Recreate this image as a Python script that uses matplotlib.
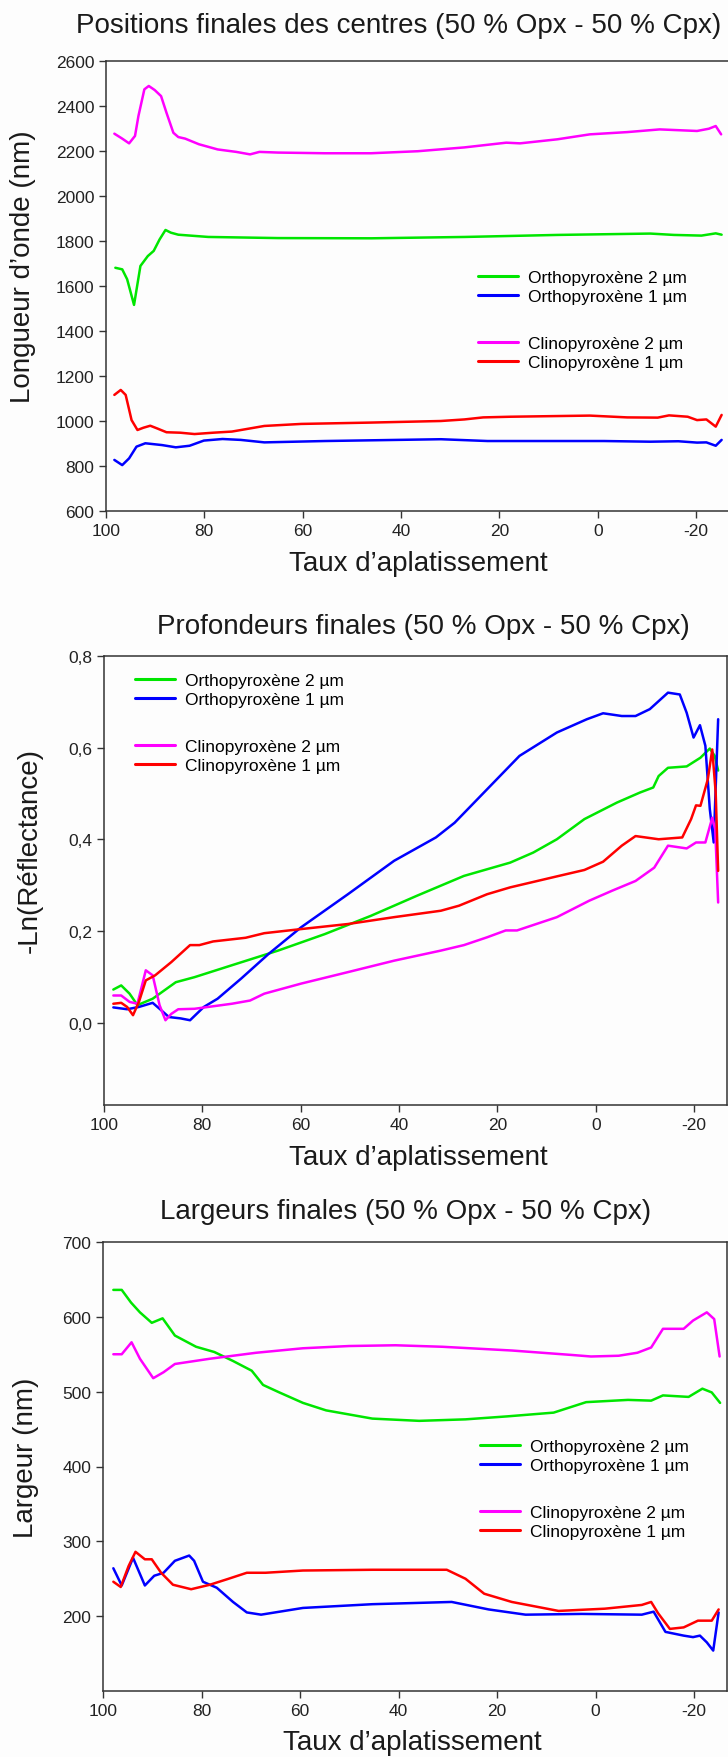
import matplotlib.pyplot as plt
from matplotlib.lines import Line2D
from matplotlib.ticker import FuncFormatter

plt.rcParams['font.family'] = ['Liberation Sans', 'DejaVu Sans']
plt.rcParams['axes.unicode_minus'] = False

GREEN = '#00e600'
BLUE = '#0000ff'
MAGENTA = '#ff00ff'
RED = '#ff0000'

labels = ['Orthopyroxène 2 µm', 'Orthopyroxène 1 µm', 'Clinopyroxène 2 µm', 'Clinopyroxène 1 µm']

# --- positions des centres (nm)
pos_x_cpx2 = [98.3, 96.7, 95.3, 94.1, 93.4, 92.2, 91.3, 90.1, 88.8, 87.7, 86.3, 85.3, 83.9, 81.1, 77.3,
              73.5, 70.7, 68.8, 65.0, 55.5, 46.1, 36.6, 27.1, 18.6, 15.8, 8.2, 1.6, -6.0, -12.6, -20.2,
              -22.6, -24.0, -25.1]
pos_cpx2 = [2277, 2255, 2234, 2267, 2356, 2474, 2489, 2471, 2444, 2370, 2281, 2262, 2255, 2230, 2207,
            2196, 2185, 2196, 2193, 2190, 2190, 2199, 2216, 2237, 2234, 2252, 2274, 2284, 2296, 2289,
            2299, 2311, 2274]
pos_x_opx2 = [98.1, 96.7, 95.7, 94.3, 93.0, 91.5, 90.3, 89.1, 87.9, 86.8, 85.3, 79.2, 65.0, 46.0, 27.0,
              8.2, -10.7, -15.5, -21.1, -24.0, -25.2]
pos_opx2 = [1681, 1674, 1630, 1516, 1689, 1733, 1756, 1807, 1849, 1837, 1828, 1818, 1813, 1812, 1818,
            1827, 1833, 1827, 1824, 1834, 1828]
pos_x_cpx1 = [98.3, 97.0, 96.0, 94.8, 93.6, 92.4, 91.0, 89.6, 87.7, 84.9, 82.0, 78.2, 74.4, 70.7, 67.8,
              60.3, 46.1, 31.9, 27.1, 23.3, 17.7, 8.2, 1.6, -6.0, -12.2, -14.5, -18.3, -20.2, -22.1,
              -24.0, -25.2]
pos_cpx1 = [1116, 1138, 1116, 1004, 960, 970, 979, 967, 950, 948, 942, 948, 953, 967, 978,
            987, 993, 1000, 1007, 1016, 1019, 1022, 1024, 1016, 1015, 1025, 1019, 1004, 1007,
            975, 1027]
pos_x_opx1 = [98.3, 96.7, 95.3, 93.8, 92.0, 88.6, 85.8, 83.0, 80.1, 76.3, 72.6, 67.8, 55.5, 31.9, 22.4,
              -1.3, -10.7, -16.4, -20.2, -22.1, -24.0, -25.2]
pos_opx1 = [827, 804, 834, 886, 901, 893, 883, 890, 913, 920, 916, 905, 911, 919, 911,
            911, 908, 910, 904, 905, 890, 916]

# --- profondeurs (-ln R)
prof_x_opx1 = [98.1, 95.3, 92.9, 90.1, 88.7, 86.8, 84.4, 82.5, 79.7, 76.9, 72.1, 66.5, 59.9, 50.4, 41.0,
               32.5, 28.7, 22.1, 15.5, 7.9, 1.8, -1.5, -5.3, -8.1, -11.0, -14.7, -17.1, -18.5, -19.9,
               -21.2, -22.3, -23.2, -24.0, -24.9]
prof_opx1 = [0.033, 0.029, 0.034, 0.043, 0.030, 0.012, 0.009, 0.005, 0.034, 0.052, 0.096, 0.150, 0.208,
             0.280, 0.353, 0.404, 0.436, 0.509, 0.582, 0.633, 0.662, 0.675, 0.669, 0.669, 0.684, 0.720,
             0.716, 0.676, 0.622, 0.649, 0.604, 0.466, 0.393, 0.662]
prof_x_opx2 = [98.1, 96.5, 94.8, 93.2, 90.1, 85.4, 81.6, 74.0, 64.6, 55.1, 45.7, 36.3, 26.8, 17.4, 12.7,
               7.9, 2.3, -4.3, -9.0, -11.7, -12.8, -14.7, -18.5, -21.3, -23.2, -24.2, -24.9]
prof_opx2 = [0.072, 0.081, 0.063, 0.038, 0.052, 0.088, 0.099, 0.125, 0.157, 0.193, 0.233, 0.277, 0.320,
             0.349, 0.371, 0.400, 0.444, 0.480, 0.502, 0.513, 0.538, 0.556, 0.559, 0.578, 0.598, 0.582,
             0.550]
prof_x_cpx1 = [98.1, 96.5, 95.3, 94.1, 92.9, 91.5, 89.6, 86.3, 82.5, 80.6, 77.8, 71.2, 67.4, 59.9, 50.4,
               41.0, 31.5, 27.8, 22.1, 17.4, 7.9, 2.3, -1.5, -5.3, -8.1, -12.8, -17.6, -19.4, -20.4,
               -21.3, -22.8, -23.7, -24.4, -24.9]
prof_cpx1 = [0.041, 0.043, 0.034, 0.016, 0.045, 0.092, 0.103, 0.132, 0.169, 0.169, 0.177, 0.185, 0.195,
             0.204, 0.215, 0.230, 0.244, 0.255, 0.280, 0.295, 0.319, 0.333, 0.351, 0.386, 0.407, 0.400,
             0.404, 0.444, 0.474, 0.473, 0.531, 0.596, 0.502, 0.331]
prof_x_cpx2 = [98.1, 96.5, 94.8, 93.2, 91.5, 90.1, 88.7, 87.5, 86.3, 84.9, 81.6, 74.0, 70.3, 67.4, 59.9,
               50.4, 41.0, 31.5, 26.8, 22.1, 18.3, 16.0, 7.9, 1.3, -3.4, -8.1, -11.9, -14.7, -18.5,
               -20.4, -22.3, -23.7, -24.3, -24.9]
prof_cpx2 = [0.059, 0.059, 0.045, 0.041, 0.114, 0.103, 0.038, 0.005, 0.019, 0.029, 0.030, 0.041, 0.048,
             0.063, 0.085, 0.110, 0.135, 0.157, 0.169, 0.186, 0.201, 0.201, 0.230, 0.266, 0.288, 0.309,
             0.338, 0.386, 0.380, 0.393, 0.393, 0.447, 0.422, 0.262]

# --- largeurs (nm)
larg_x_opx2 = [97.9, 96.2, 94.3, 92.5, 90.1, 87.9, 85.4, 81.1, 77.4, 73.6, 69.8, 67.5, 64.2, 59.4, 54.7,
               45.3, 35.8, 26.4, 17.9, 8.5, 1.9, -6.6, -11.3, -13.7, -18.9, -21.7, -23.6, -25.3]
larg_opx2 = [636, 636, 619, 606, 592, 598, 575, 560, 553, 541, 528, 509, 499, 485, 475,
             464, 461, 463, 467, 472, 486, 489, 488, 495, 493, 504, 499, 485]
larg_x_cpx2 = [97.9, 96.2, 94.2, 92.5, 89.8, 87.7, 85.4, 78.3, 68.9, 59.4, 50.0, 40.6, 31.1, 17.0, 4.7,
               0.9, -4.7, -8.5, -11.3, -13.7, -17.9, -19.8, -22.6, -24.1, -25.2]
larg_cpx2 = [550, 550, 566, 544, 518, 526, 537, 544, 552, 558, 561, 562, 560, 555, 549,
             547, 548, 552, 559, 584, 584, 595, 606, 597, 547]
larg_x_cpx1 = [97.9, 96.4, 94.8, 93.4, 91.5, 90.1, 88.2, 85.8, 82.1, 78.3, 74.5, 70.8, 67.0, 59.4, 45.3,
               30.2, 26.4, 22.6, 17.0, 7.5, -1.9, -9.4, -11.3, -12.7, -15.1, -17.9, -20.8, -23.6, -25.0]
larg_cpx1 = [246, 239, 267, 286, 276, 276, 258, 242, 236, 242, 250, 258, 258, 261, 262,
             262, 250, 230, 219, 207, 210, 215, 219, 204, 183, 185, 194, 194, 209]
larg_x_opx1 = [97.9, 96.2, 93.9, 91.5, 89.6, 87.7, 85.4, 82.5, 81.5, 79.7, 76.9, 73.6, 70.8, 67.9, 59.4,
               45.3, 29.2, 21.7, 14.2, 2.8, -9.4, -11.8, -14.2, -17.9, -19.8, -21.2, -22.6, -23.9, -25.0]
larg_opx1 = [264, 241, 278, 241, 254, 258, 274, 281, 274, 246, 238, 219, 205, 202, 211,
             216, 219, 209, 202, 203, 202, 206, 179, 174, 172, 174, 165, 154, 205]

W, H = 728, 1758
fig = plt.figure(figsize=(W / 100, H / 100), dpi=100, facecolor='#fdfdfd')


def box(left, top, right, bottom):
    return [left / W, 1 - bottom / H, (right - left) / W, (bottom - top) / H]


def style(ax):
    ax.set_facecolor('#fdfdfd')
    for s in ax.spines.values():
        s.set_color('#333333')
        s.set_linewidth(1.1)
    ax.tick_params(direction='out', length=5, width=1, color='#333333', labelsize=12.5,
                   labelcolor='#222222', top=False, right=False)
    ax.set_xlim(100, -26.7)
    ax.set_xticks([100, 80, 60, 40, 20, 0, -20])


def add_legend(ax, lines, x, y):
    # empty row between the ortho and clino groups (invisible placeholder)
    blank = Line2D([], [], color='none')
    handles = [lines[0], lines[1], blank, lines[2], lines[3]]
    names = [labels[0], labels[1], 'Ag', labels[2], labels[3]]
    leg = ax.legend(handles, names, loc='upper left', bbox_to_anchor=(x / W, 1 - y / H),
                    bbox_transform=fig.transFigure, frameon=False, fontsize=12.5,
                    handlelength=2.3, handletextpad=0.6, labelspacing=0.22, borderpad=0, borderaxespad=0)
    gap = leg.get_texts()[2]
    gap.set_color('none')
    gap.set_fontsize(18)
    for h in leg.get_lines():
        h.set_linewidth(2.2)


lw = 1.8
kw = dict(lw=lw, solid_joinstyle='round', solid_capstyle='round')

# panel 1
ax1 = fig.add_axes(box(106, 62, 729, 512))
style(ax1)
l1 = ax1.plot(pos_x_opx2, pos_opx2, color=GREEN, **kw)[0]
l2 = ax1.plot(pos_x_opx1, pos_opx1, color=BLUE, **kw)[0]
l3 = ax1.plot(pos_x_cpx2, pos_cpx2, color=MAGENTA, **kw)[0]
l4 = ax1.plot(pos_x_cpx1, pos_cpx1, color=RED, **kw)[0]
ax1.set_ylim(600, 2600)
ax1.set_yticks(range(600, 2601, 200))
add_legend(ax1, [l1, l2, l3, l4], 478, 271)

# panel 2
ax2 = fig.add_axes(box(104, 657, 727, 1106))
style(ax2)
l1 = ax2.plot(prof_x_opx2, prof_opx2, color=GREEN, **kw)[0]
l2 = ax2.plot(prof_x_opx1, prof_opx1, color=BLUE, **kw)[0]
l3 = ax2.plot(prof_x_cpx2, prof_cpx2, color=MAGENTA, **kw)[0]
l4 = ax2.plot(prof_x_cpx1, prof_cpx1, color=RED, **kw)[0]
ax2.set_ylim(-0.18, 0.8)
ax2.set_yticks([0.0, 0.2, 0.4, 0.6, 0.8])
ax2.yaxis.set_major_formatter(FuncFormatter(lambda v, p: f'{v:.1f}'.replace('.', ',')))
add_legend(ax2, [l1, l2, l3, l4], 135, 674)

# panel 3
ax3 = fig.add_axes(box(103, 1243, 727, 1692))
style(ax3)
l1 = ax3.plot(larg_x_opx2, larg_opx2, color=GREEN, **kw)[0]
l2 = ax3.plot(larg_x_opx1, larg_opx1, color=BLUE, **kw)[0]
l3 = ax3.plot(larg_x_cpx2, larg_cpx2, color=MAGENTA, **kw)[0]
l4 = ax3.plot(larg_x_cpx1, larg_cpx1, color=RED, **kw)[0]
ax3.set_ylim(100, 700)
ax3.set_yticks(range(200, 701, 100))
add_legend(ax3, [l1, l2, l3, l4], 480, 1440)

big = 20
tc = '#1a1a1a'
fig.text(399 / W, 1 - 26 / H, 'Positions finales des centres (50 % Opx - 50 % Cpx)', ha='center', va='center', fontsize=big, color=tc)
fig.text(423 / W, 1 - 627 / H, 'Profondeurs finales (50 % Opx - 50 % Cpx)', ha='center', va='center', fontsize=big, color=tc)
fig.text(406 / W, 1 - 1212 / H, 'Largeurs finales (50 % Opx - 50 % Cpx)', ha='center', va='center', fontsize=big, color=tc)

fig.text(418 / W, 1 - 564 / H, 'Taux d’aplatissement', ha='center', va='center', fontsize=big, color=tc)
fig.text(418 / W, 1 - 1158 / H, 'Taux d’aplatissement', ha='center', va='center', fontsize=big, color=tc)
fig.text(412 / W, 1 - 1743 / H, 'Taux d’aplatissement', ha='center', va='center', fontsize=big, color=tc)

fig.text(23 / W, 1 - 267 / H, 'Longueur d’onde (nm)', ha='center', va='center', rotation=90, fontsize=big, color=tc)
fig.text(30 / W, 1 - 851 / H, '-Ln(Réflectance)', ha='center', va='center', rotation=90, fontsize=big, color=tc)
fig.text(26 / W, 1 - 1458 / H, 'Largeur (nm)', ha='center', va='center', rotation=90, fontsize=big, color=tc)

fig.savefig('out.png', dpi=100, facecolor=fig.get_facecolor())
